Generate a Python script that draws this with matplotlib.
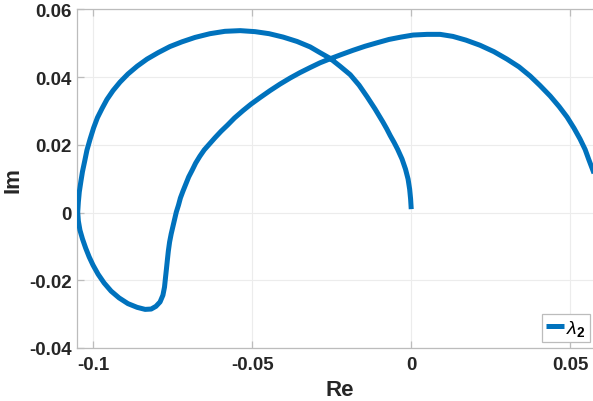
import matplotlib
matplotlib.use("Agg")
import matplotlib.pyplot as plt
from matplotlib.lines import Line2D

# Eigenvalue locus of lambda_2 in the complex plane (real part, imaginary part)
re_vals = [
    # rising branch from the origin over the left arc
    0.0000, -0.0002, -0.0005, -0.0010, -0.0018, -0.0029, -0.0043, -0.0054,
    -0.0066, -0.0077, -0.0089, -0.0114, -0.0139, -0.0164, -0.0192, -0.0224,
    -0.0255, -0.0287, -0.0318, -0.0359, -0.0403, -0.0447, -0.0491, -0.0538,
    -0.0586, -0.0633, -0.0680, -0.0721, -0.0759, -0.0796, -0.0831, -0.0862,
    -0.0891, -0.0916, -0.0938, -0.0957, -0.0972, -0.0987, -0.0999, -0.1010,
    -0.1020, -0.1027, -0.1034, -0.1039, -0.1044, -0.1047, -0.1049,
    # lower loop
    -0.1047, -0.1042, -0.1034, -0.1024, -0.1013, -0.1001, -0.0985, -0.0966,
    -0.0944, -0.0919, -0.0891, -0.0862, -0.0837, -0.0818, -0.0803, -0.0790,
    -0.0781, -0.0776, -0.0773, -0.0770, -0.0767, -0.0764, -0.0760,
    # inner branch up to the right arc
    -0.0755, -0.0750, -0.0744, -0.0739, -0.0732, -0.0726, -0.0718, -0.0709,
    -0.0700, -0.0689, -0.0678, -0.0665, -0.0651, -0.0634, -0.0617, -0.0598,
    -0.0578, -0.0556, -0.0529, -0.0504, -0.0476, -0.0444, -0.0413, -0.0381,
    -0.0350, -0.0318, -0.0287, -0.0255, -0.0221, -0.0183, -0.0145, -0.0108,
    -0.0070, -0.0032, 0.0006, 0.0050, 0.0091, 0.0131, 0.0172, 0.0216,
    0.0260, 0.0301, 0.0339, 0.0374, 0.0405, 0.0437, 0.0465, 0.0490,
    0.0512, 0.0531, 0.0547, 0.0559, 0.0572, 0.0585,
]
im_vals = [
    0.0010, 0.0040, 0.0069, 0.0099, 0.0128, 0.0158, 0.0187, 0.0207,
    0.0227, 0.0247, 0.0267, 0.0306, 0.0342, 0.0376, 0.0407, 0.0432,
    0.0455, 0.0472, 0.0489, 0.0505, 0.0518, 0.0528, 0.0534, 0.0537,
    0.0535, 0.0528, 0.0517, 0.0504, 0.0490, 0.0472, 0.0453, 0.0432,
    0.0409, 0.0385, 0.0360, 0.0334, 0.0308, 0.0280, 0.0250, 0.0217,
    0.0184, 0.0152, 0.0121, 0.0092, 0.0061, 0.0031, 0.0001,
    -0.0025, -0.0052, -0.0078, -0.0105, -0.0131, -0.0155, -0.0182, -0.0208,
    -0.0232, -0.0252, -0.0269, -0.0280, -0.0286, -0.0285, -0.0277, -0.0264,
    -0.0244, -0.0220, -0.0193, -0.0167, -0.0140, -0.0114, -0.0087,
    -0.0063, -0.0043, -0.0019, 0.0001, 0.0022, 0.0043, 0.0063, 0.0084,
    0.0105, 0.0125, 0.0146, 0.0166, 0.0185, 0.0203, 0.0221, 0.0240,
    0.0258, 0.0279, 0.0301, 0.0320, 0.0339, 0.0360, 0.0379, 0.0397,
    0.0413, 0.0428, 0.0442, 0.0454, 0.0466, 0.0479, 0.0491, 0.0501,
    0.0511, 0.0518, 0.0524, 0.0526, 0.0526, 0.0520, 0.0509, 0.0494,
    0.0475, 0.0453, 0.0430, 0.0403, 0.0375, 0.0344, 0.0313, 0.0282,
    0.0249, 0.0217, 0.0186, 0.0155, 0.0123, 0.0090,
]

x_ticks = [-0.1, -0.05, 0.0, 0.05]
x_tick_labels = ["-0.1", "-0.05", "0", "0.05"]
y_ticks = [-0.04, -0.02, 0.0, 0.02, 0.04, 0.06]
y_tick_labels = ["-0.04", "-0.02", "0", "0.02", "0.04", "0.06"]

line_color = "#0072BD"
axis_gray = "#bcbcbc"
text_dark = "#262626"

plt.rcParams["font.family"] = ["Liberation Sans", "DejaVu Sans"]
plt.rcParams["mathtext.fontset"] = "custom"
plt.rcParams["mathtext.rm"] = "Liberation Sans"
plt.rcParams["mathtext.it"] = "Liberation Sans:italic"
plt.rcParams["mathtext.bf"] = "Liberation Sans:bold"

W, H = 593, 402
fig = plt.figure(figsize=(W / 100, H / 100), dpi=100)
ax_left, ax_right = 77.4, 602.0
ax_top, ax_bottom = 10.3, 349.0
ax = fig.add_axes([ax_left / W, 1 - ax_bottom / H,
                   (ax_right - ax_left) / W, (ax_bottom - ax_top) / H])

ax.plot(re_vals, im_vals, color=line_color, lw=3.6, solid_capstyle="butt",
        solid_joinstyle="round", zorder=3)

ax.set_xlim(-0.105, 0.06)
ax.set_ylim(-0.04, 0.06)
ax.set_xticks(x_ticks)
ax.set_xticklabels(x_tick_labels)
ax.set_yticks(y_ticks)
ax.set_yticklabels(y_tick_labels)

ax.grid(True, color="#ececec", lw=0.8, zorder=0)
ax.set_axisbelow(True)
for s in ax.spines.values():
    s.set_color(axis_gray)
    s.set_linewidth(0.9)

ax.tick_params(direction="in", length=5, width=0.9, color=axis_gray,
               top=True, right=True, labelsize=13.5, labelcolor=text_dark)
ax.tick_params(axis="x", pad=6)
ax.tick_params(axis="y", pad=4)
for lab in ax.get_xticklabels() + ax.get_yticklabels():
    lab.set_fontweight("bold")

ax.set_xlabel("Re", fontsize=16, fontweight="bold", color=text_dark, labelpad=4)
ax.set_ylabel("Im", fontsize=16, fontweight="bold", color=text_dark, labelpad=4)

handle = Line2D([], [], color=line_color, lw=3.6, solid_capstyle="butt")
leg = ax.legend([handle], [r"$\lambda_{\mathbf{2}}$"], loc="lower right",
                bbox_to_anchor=(589.5 / W, 1 - 343 / H),
                bbox_transform=fig.transFigure, borderaxespad=0,
                fontsize=14, handlelength=0.95, handletextpad=0.1,
                borderpad=0.2, fancybox=False, framealpha=1,
                edgecolor=axis_gray)
leg.get_frame().set_linewidth(0.9)

fig.savefig("out.png", dpi=100)
